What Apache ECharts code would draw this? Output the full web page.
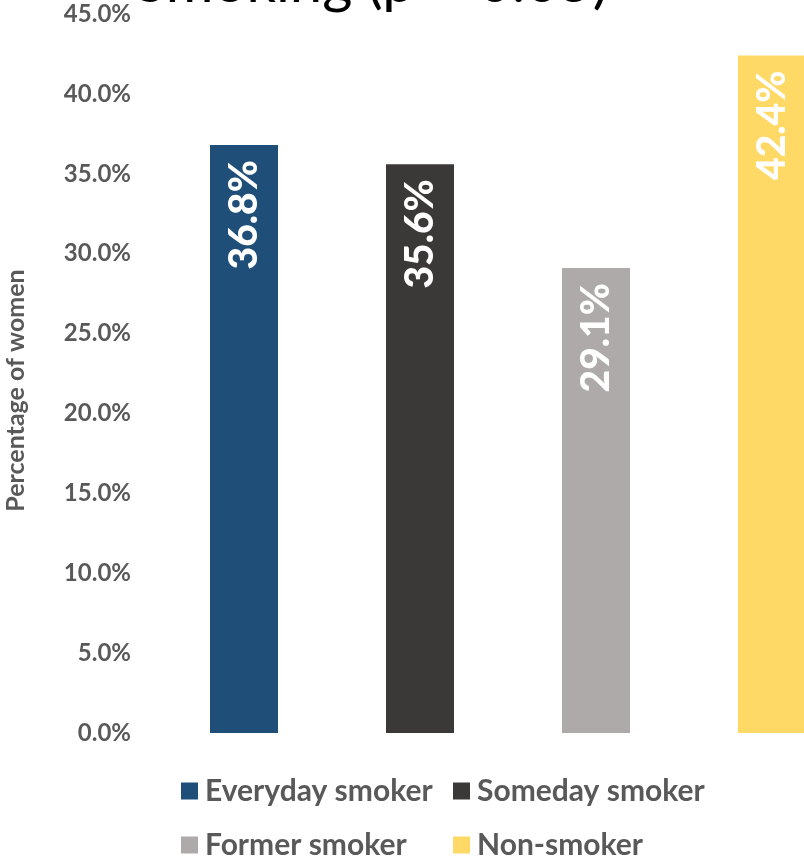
<!DOCTYPE html>
<html><head><meta charset="utf-8">
<script src="https://cdn.jsdelivr.net/npm/echarts@6/dist/echarts.min.js"></script>
<style>html,body{margin:0;padding:0;background:#fff}#c{width:804px;height:858px}</style>
</head><body><div id="c"></div>
<script>
const categories = ['Everyday smoker', 'Someday smoker', 'Former smoker', 'Non-smoker'];
const values = [36.8, 35.6, 29.1, 42.4];
const colors = ['#1F4E79', '#3B3838', '#AEAAAA', '#FFD966'];
const yTicks = { min: 0, max: 45, interval: 5 };
const titleText = 'Smoking (p = 0.05)';
const axisName = 'Percentage of women';

const FONT = 'Lato';
const chart = echarts.init(document.getElementById('c'));
const series = categories.map((name, i) => ({
  name: name,
  type: 'bar',
  barWidth: 68,
  barGap: '-100%',
  itemStyle: { color: colors[i] },
  data: values.map((v, j) => (j === i ? v : '-')),
  label: {
    show: true,
    position: 'insideTop',
    distance: 15,
    rotate: 90,
    align: 'right',
    verticalAlign: 'middle',
    color: '#fff',
    fontFamily: FONT,
    fontWeight: 900,
    fontSize: 39,
    formatter: p => p.value.toFixed(1) + '%'
  }
}));
const legendText = { fontFamily: FONT, fontWeight: 'bold', fontSize: 30, color: '#595959', padding: [0, 0, 0, 2] };
const legendPos = [[181, 776], [453, 776], [181, 830], [453, 830]];
chart.setOption({
  animation: false,
  graphic: [{
    type: 'text', left: 135, top: -46,
    style: { text: titleText, font: '58px Lato', fill: '#000' }
  }],
  legend: categories.map((c, i) => ({
    data: [c], left: legendPos[i][0], top: legendPos[i][1], padding: 0, itemWidth: 17, itemHeight: 17,
    icon: 'rect', textStyle: legendText, selectedMode: false
  })),
  grid: { left: 156, width: 704, top: 14, bottom: 125, containLabel: false, outerBoundsMode: 'none' },
  xAxis: {
    type: 'category', data: categories,
    axisLine: { show: false }, axisTick: { show: false }, axisLabel: { show: false }
  },
  yAxis: {
    type: 'value', min: yTicks.min, max: yTicks.max, interval: yTicks.interval,
    name: axisName, nameLocation: 'middle', nameGap: 128,
    nameTextStyle: { fontFamily: FONT, fontWeight: 'bold', fontSize: 25, color: '#595959', padding: [0, 34, 0, 0] },
    axisLine: { show: false }, axisTick: { show: false }, splitLine: { show: false },
    axisLabel: { margin: 25, fontFamily: FONT, fontWeight: 'bold', fontSize: 24, color: '#595959',
      formatter: v => v.toFixed(1) + '%' }
  },
  series: series
});
</script></body></html>
